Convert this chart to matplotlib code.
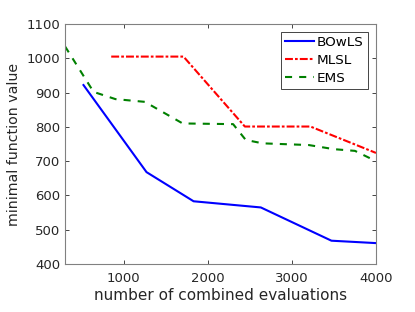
import matplotlib
matplotlib.use("Agg")
import matplotlib.pyplot as plt

plt.rcParams['font.family'] = ['DejaVu Sans']

bowls_x = [520, 1270, 1830, 2630, 3470, 4000]
bowls_y = [922, 668, 583, 565, 468, 461]

mlsl_x = [850, 1710, 2440, 3220, 4000]
mlsl_y = [1005, 1005, 801, 801, 724]

ems_x = [300, 640, 900, 1250, 1700, 2300, 2450, 2650, 3200, 3500, 3750, 4000]
ems_y = [1035, 902, 881, 873, 810, 808, 762, 752, 747, 735, 730, 700]

xticks = [1000, 2000, 3000, 4000]
yticks = [400, 500, 600, 700, 800, 900, 1000, 1100]

fig = plt.figure(figsize=(4.15, 3.12), dpi=100)
ax = fig.add_axes([0.1566, 0.1538, 0.7494, 0.7692])

lw = 1.5
ax.plot(bowls_x, bowls_y, color=(0, 0, 1), lw=lw, label='BOwLS')
ax.plot(mlsl_x, mlsl_y, color=(1, 0, 0), lw=lw, dashes=(3.8, 1.0, 1.3, 1.0), label='MLSL')
ax.plot(ems_x, ems_y, color=(0, 0.5, 0), lw=lw, dashes=(3.4, 3.4), label='EMS')

ax.set_xlim(300, 4000)
ax.set_ylim(400, 1100)
ax.set_xticks(xticks)
ax.set_yticks(yticks)
txtc = (0.15, 0.15, 0.15)
ax.tick_params(direction='in', top=True, right=True, length=3, width=0.6,
               labelsize=9.5, colors=txtc)
ax.tick_params(axis='x', pad=6)
ax.tick_params(axis='y', pad=3.5)
for s in ax.spines.values():
    s.set_color((0.5, 0.5, 0.5))
    s.set_linewidth(0.8)

ax.set_xlabel('number of combined evaluations', fontsize=11, color=txtc, labelpad=2)
ax.set_ylabel('minimal function value', fontsize=10.2, color=txtc, labelpad=4)

leg = ax.legend(loc='upper right', fontsize=9.7, frameon=True, fancybox=False,
                handlelength=2.2, handletextpad=0.2, labelspacing=0.35,
                borderpad=0.3, borderaxespad=0.6, framealpha=1)
leg.get_frame().set_edgecolor((0.15, 0.15, 0.15))
leg.get_frame().set_linewidth(0.6)

fig.savefig('out.png', dpi=100)
